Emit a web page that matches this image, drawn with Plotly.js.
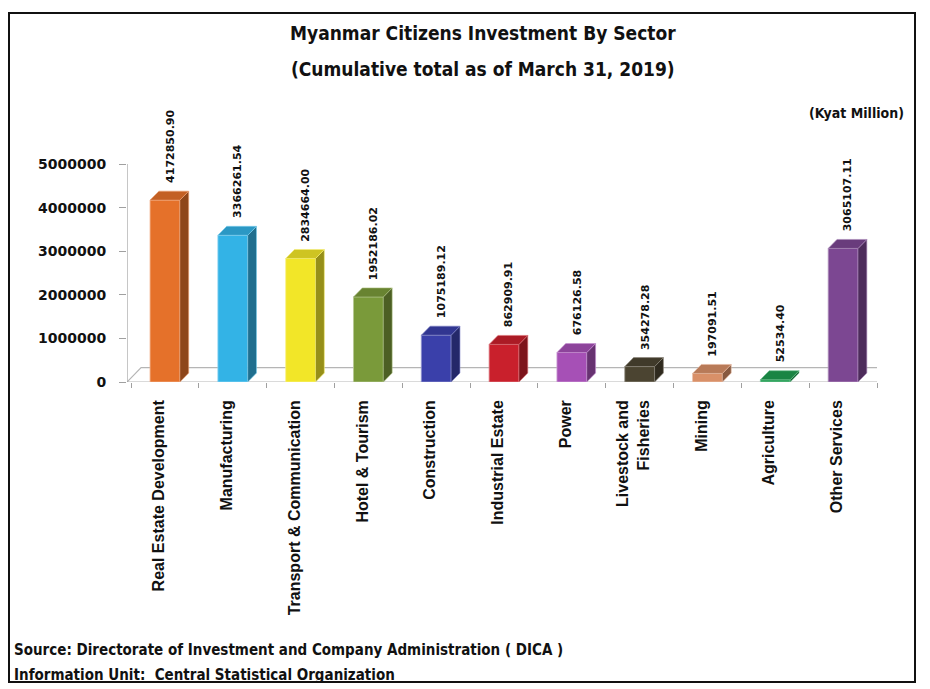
<!DOCTYPE html>
<html>
<head>
<meta charset="utf-8">
<script src="https://cdn.plot.ly/plotly-3.0.1.min.js"></script>
<style>
  html, body { margin: 0; padding: 0; background: #ffffff; }
  #frame { position: absolute; left: 8px; top: 12px; width: 908px; height: 671px; border: 2px solid #111; box-sizing: border-box; }
  #chart { position: absolute; left: 0; top: 0; width: 930px; height: 689px; }
</style>
</head>
<body>
<div id="frame"></div>
<div id="chart"></div>
<script>
// ---- data ----
const categories = [
  "Real Estate Development", "Manufacturing", "Transport & Communication",
  "Hotel & Tourism", "Construction", "Industrial Estate", "Power",
  "Livestock and<br>Fisheries", "Mining", "Agriculture", "Other Services"
];
const values = [4172850.90, 3366261.54, 2834664.00, 1952186.02, 1075189.12,
                862909.91, 676126.58, 354278.28, 197091.51, 52534.40, 3065107.11];
const valueLabels = ["4172850.90", "3366261.54", "2834664.00", "1952186.02", "1075189.12",
                     "862909.91", "676126.58", "354278.28", "197091.51", "52534.40", "3065107.11"];
const yTickVals = [0, 1000000, 2000000, 3000000, 4000000, 5000000];
const yTickText = ["0", "1000000", "2000000", "3000000", "4000000", "5000000"];
const titleLines = ["Myanmar Citizens Investment By Sector", "(Cumulative total as of March 31, 2019)"];
const unitNote = "(Kyat Million)";
const footerLines = ["Source: Directorate of Investment and Company Administration ( DICA )",
                     "Information Unit:  Central Statistical Organization"];
const colors = ["#E5712A", "#33B3E6", "#F2E628", "#7A9A3A", "#3A40AA", "#C9202C",
                "#A650B6", "#4B4431", "#D99068", "#1F9C50", "#7C4792"];

// ---- geometry helpers (styling only) ----
const W = 930, H = 689;
const M = { l: 127, r: 53, t: 100, b: 307 };
const xRange = [-0.56, 10.5];
const yMax = 6470000;
const halfW = 0.22;       // half bar width (category units)
const dx = 0.13;          // 3D depth in x units
const dy = 206000;        // 3D depth in y units
const px2paperX = px => (px - M.l) / (W - M.l - M.r);
const px2paperY = py => (H - M.b - py) / (H - M.t - M.b);

function shade(hex, f) {
  const n = parseInt(hex.slice(1), 16);
  let r = (n >> 16) & 255, g = (n >> 8) & 255, b = n & 255;
  const c = v => Math.max(0, Math.min(255, Math.round(v)));
  if (f < 1) { r *= f; g *= f; b *= f; }
  else { const t = f - 1; r = r + (255 - r) * t; g = g + (255 - g) * t; b = b + (255 - b) * t; }
  return "rgb(" + c(r) + "," + c(g) + "," + c(b) + ")";
}

const xIdx = categories.map((_, i) => i);
const traces = [];

// y axis line (to 5M)
traces.push({
  type: "scatter", mode: "lines", hoverinfo: "skip", showlegend: false, cliponaxis: false,
  x: [xRange[0], xRange[0]], y: [0, yTickVals[yTickVals.length - 1]],
  line: { color: "#a0a0a0", width: 1.2 }
});

// front faces
traces.push({
  type: "bar", x: xIdx, y: values, width: halfW * 2, showlegend: false, cliponaxis: false,
  marker: { color: colors, line: { color: colors.map(c => shade(c, 1.45)), width: 0.8 } },
  hoverinfo: "y"
});

// side and top faces
values.forEach((v, i) => {
  const xr = i + halfW, xl = i - halfW;
  traces.push({
    type: "scatter", mode: "lines", fill: "toself", hoverinfo: "skip", showlegend: false, cliponaxis: false,
    x: [xr, xr + dx, xr + dx, xr, xr], y: [0, dy, v + dy, v, 0],
    fillcolor: shade(colors[i], 0.62), line: { color: shade(colors[i], 1.35), width: 0.6 }
  });
  traces.push({
    type: "scatter", mode: "lines", fill: "toself", hoverinfo: "skip", showlegend: false, cliponaxis: false,
    x: [xl, xr, xr + dx, xl + dx, xl], y: [v, v, v + dy, v + dy, v],
    fillcolor: shade(colors[i], 0.85), line: { color: shade(colors[i], 1.35), width: 0.6 }
  });
});

// floor (drawn beneath bars)
const fd = 1.6;
const shapes = [{
  type: "path", xref: "x", yref: "y", layer: "below",
  path: "M " + xRange[0] + "," + 0 + " L " + xRange[1] + "," + 0 +
        " L " + (xRange[1] + dx * fd) + "," + (dy * fd) + " L " + (xRange[0] + dx * fd) + "," + (dy * fd) + " Z",
  line: { color: "#b5b5b5", width: 1.2 }, fillcolor: "rgba(0,0,0,0)"
}];

const annotations = [];
values.forEach((v, i) => {
  annotations.push({
    x: i + dx * 0.6, y: v + dy, xref: "x", yref: "y", text: "<b>" + valueLabels[i] + "</b>",
    textangle: -90, showarrow: false, xanchor: "center", yanchor: "bottom", yshift: 6,
    font: { family: "DejaVu Sans", size: 11, color: "#111" }
  });
});
titleLines.forEach((t, k) => {
  annotations.push({
    xref: "paper", yref: "paper", x: px2paperX(483), y: px2paperY(k === 0 ? 33 : 69),
    text: "<b>" + t + "</b>", showarrow: false, xanchor: "center", yanchor: "middle",
    font: { family: "DejaVu Sans Condensed, sans-serif", size: 19, color: "#111" }
  });
});
annotations.push({
  xref: "paper", yref: "paper", x: px2paperX(906), y: px2paperY(113),
  text: "<b>" + unitNote + "</b>", showarrow: false, xanchor: "right", yanchor: "middle",
  font: { family: "DejaVu Sans Condensed, sans-serif", size: 14, color: "#111" }
});
footerLines.forEach((t, k) => {
  annotations.push({
    xref: "paper", yref: "paper", x: px2paperX(12), y: px2paperY(k === 0 ? 650 : 675),
    text: "<b>" + t + "</b>", showarrow: false, xanchor: "left", yanchor: "middle",
    font: { family: "DejaVu Sans Condensed, sans-serif", size: 15, color: "#111" }
  });
});

const layout = {
  width: W, height: H,
  margin: M,
  paper_bgcolor: "rgba(0,0,0,0)", plot_bgcolor: "rgba(0,0,0,0)",
  showlegend: false,
  xaxis: {
    range: xRange, tickmode: "array", tickvals: xIdx, ticktext: categories.map(c => "<b>" + c + "</b>"),
    tickangle: -90, ticks: "", showgrid: false, zeroline: false, showline: false,
    ticklabelstandoff: 14, ticklabelshift: -6,
    tickfont: { family: "Liberation Sans, Arial, sans-serif", size: 16, color: "#111" },
    minor: { tickmode: "linear", tick0: 0.5, dtick: 1, ticks: "outside", ticklen: 5, tickcolor: "#a0a0a0", showgrid: false },
    fixedrange: true
  },
  yaxis: {
    range: [0, yMax], tickmode: "array", tickvals: yTickVals, ticktext: yTickText.map(t => "<b>" + t + "</b>"),
    ticks: "outside", ticklen: 7, tickcolor: "#a0a0a0", showgrid: false, zeroline: false, showline: false,
    ticklabelstandoff: 10,
    tickfont: { family: "DejaVu Sans, sans-serif", size: 14, color: "#111" },
    fixedrange: true
  },
  shapes: shapes,
  annotations: annotations
};

Plotly.newPlot("chart", traces, layout, { displayModeBar: false, staticPlot: true });
</script>
</body>
</html>
